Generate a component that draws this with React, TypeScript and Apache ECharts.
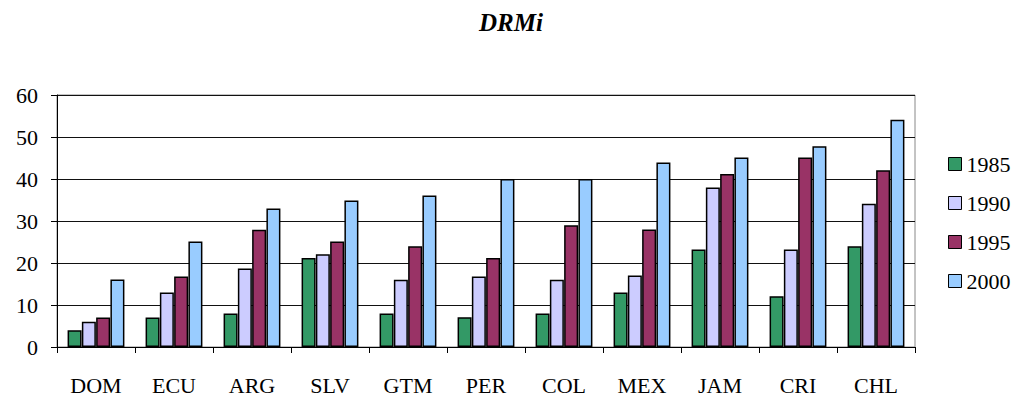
import React, { useEffect, useRef } from "react";
import * as echarts from "echarts";

const categories = ["DOM", "ECU", "ARG", "SLV", "GTM", "PER", "COL", "MEX", "JAM", "CRI", "CHL"];
const seriesNames = ["1985", "1990", "1995", "2000"];
const v1985 = [4, 7, 8, 21.2, 8, 7.1, 8, 13, 23.2, 12.1, 24];
const v1990 = [6, 13, 18.7, 22.1, 16, 16.8, 16, 17, 38, 23.2, 34.1];
const v1995 = [7, 16.8, 27.9, 25.1, 24, 21.2, 29, 28, 41.2, 45.1, 42.1];
const v2000 = [16.1, 25.1, 33, 34.9, 36.1, 40, 40, 43.9, 45.1, 47.8, 54.1];
const colors = ["#339966", "#CCCCFF", "#993366", "#99CCFF"];
const yTicks = [0, 10, 20, 30, 40, 50, 60];

const FONT = "'Liberation Serif', 'DejaVu Serif', serif";

export default function App() {
  const ref = useRef<HTMLDivElement>(null);
  useEffect(() => {
    document.body.style.margin = "0";
    if (!ref.current) return;
    const chart = echarts.init(ref.current, null, { renderer: "svg" });
    const data = [v1985, v1990, v1995, v2000];
    chart.setOption({
      animation: false,
      backgroundColor: "#fff",
      title: {
        text: "DRMi",
        left: "center",
        top: 5,
        textStyle: { fontFamily: FONT, fontSize: 25, fontWeight: "bold", fontStyle: "italic", color: "#000" },
      },
      legend: {
        orient: "vertical",
        left: 943,
        top: 148,
        itemWidth: 13,
        itemHeight: 13,
        itemGap: 17,
        icon: "rect",
        data: seriesNames,
        textStyle: { fontFamily: FONT, fontSize: 22, color: "#000", lineHeight: 22 },
        itemStyle: { borderColor: "#000", borderWidth: 1 },
      },
      grid: {
        left: 57,
        right: 107,
        top: 95,
        bottom: 56,
        show: true,
        borderColor: "#888",
        borderWidth: 1,
      },
      xAxis: {
        type: "category",
        data: categories,
        boundaryGap: true,
        axisLine: { lineStyle: { color: "#000", width: 1 } },
        axisTick: { show: true, inside: false, length: 6, lineStyle: { color: "#000" } },
        axisLabel: { fontFamily: FONT, fontSize: 22, color: "#000", margin: 27 },
      },
      yAxis: {
        type: "value",
        min: yTicks[0],
        max: yTicks[yTicks.length - 1],
        interval: 10,
        axisLine: { show: true, lineStyle: { color: "#000", width: 1 } },
        axisTick: { show: true, length: 6, lineStyle: { color: "#000" } },
        axisLabel: { fontFamily: FONT, fontSize: 22, color: "#000", margin: 19 },
        splitLine: { show: true, lineStyle: { color: "#111", width: 1 } },
      },
      series: seriesNames.map((name, i) => ({
        name,
        type: "bar",
        data: data[i],
        barWidth: 14,
        barGap: "2%",
        itemStyle: { color: colors[i], borderColor: "#000", borderWidth: 1.5 },
      })),
    });
    return () => chart.dispose();
  }, []);
  return <div ref={ref} style={{ width: 1022, height: 403 }} />;
}
